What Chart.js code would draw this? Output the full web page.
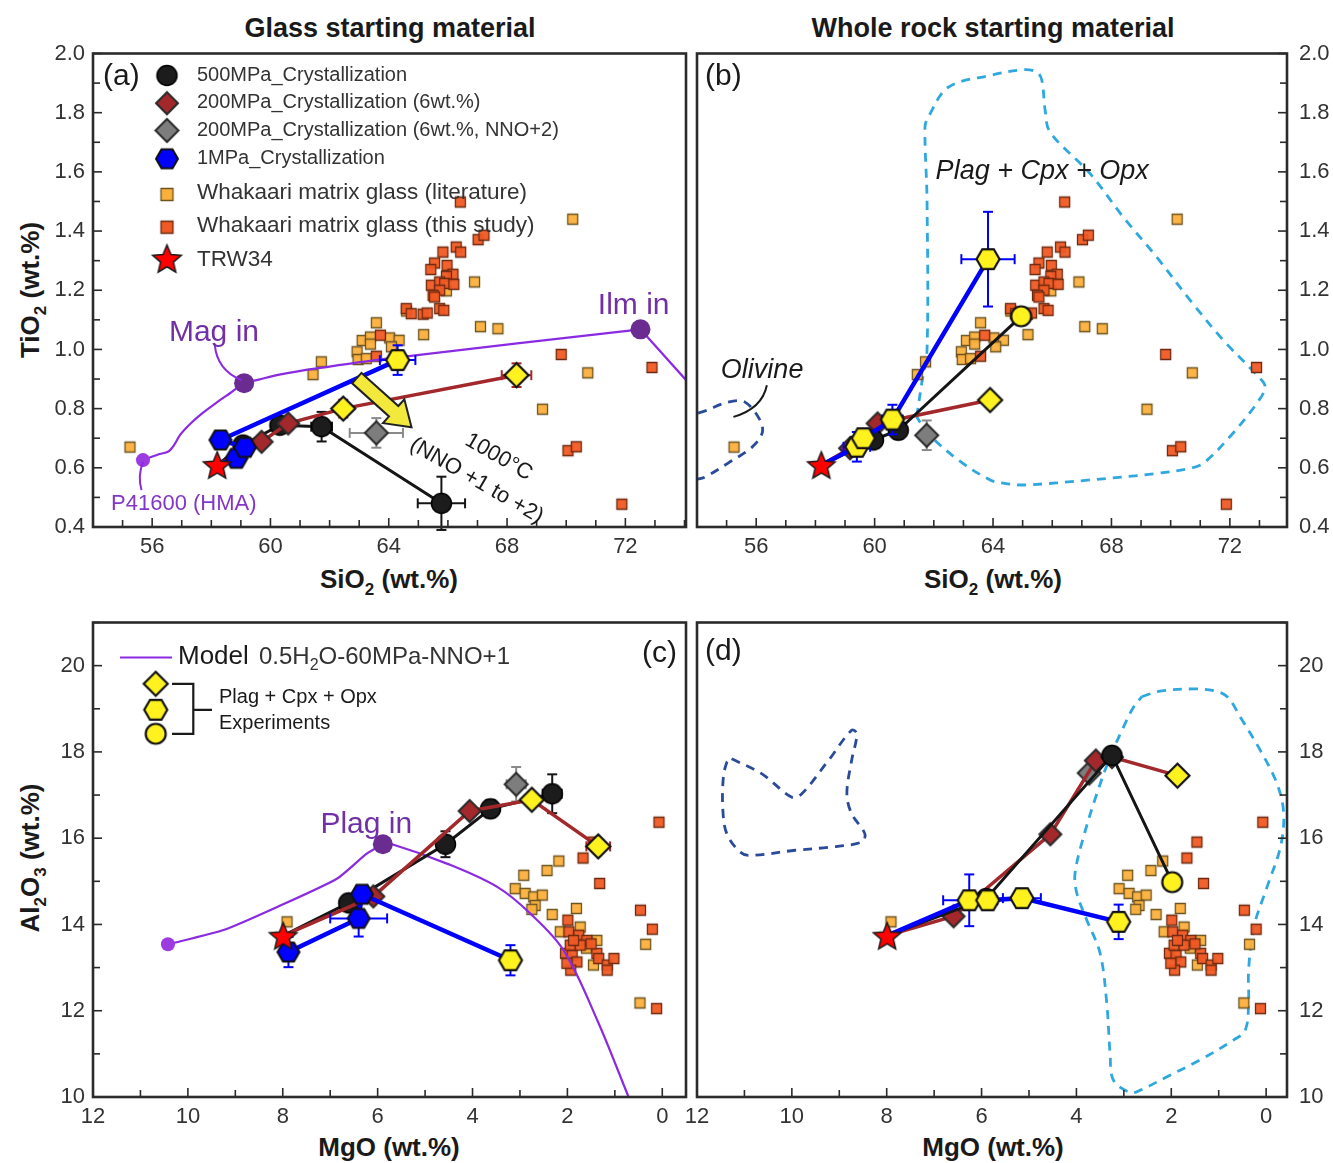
<!DOCTYPE html>
<html>
<head>
<meta charset="utf-8">
<title>Glass vs whole rock starting material</title>
<script src="https://cdn.jsdelivr.net/npm/chart.js@4.4.1/dist/chart.umd.min.js"></script>
<style>
  html, body { margin: 0; padding: 0; background: #fff; }
  body { position: relative; width: 1333px; height: 1163px; overflow: hidden;
         font-family: 'Liberation Sans', Arial, sans-serif; color: #1a1a1a; }
  canvas { position: absolute; }
  .lbl { position: absolute; font-weight: bold; white-space: nowrap; transform: translate(-50%, -50%); }
  .col { font-size: 27px; }
  .ax { font-size: 26px; }
  .ax sub { font-size: 17px; vertical-align: -7px; line-height: 0; }
  .rot { transform: translate(-50%, -50%) rotate(-90deg); }
</style>
</head>
<body>
<div class="lbl col" style="left:390px;top:28px">Glass starting material</div>
<div class="lbl col" style="left:993px;top:28px">Whole rock starting material</div>
<div class="lbl ax rot" style="left:30px;top:290px">TiO<sub>2</sub> (wt.%)</div>
<div class="lbl ax" style="left:389px;top:579px">SiO<sub>2</sub> (wt.%)</div>
<div class="lbl ax" style="left:993px;top:579px">SiO<sub>2</sub> (wt.%)</div>
<div class="lbl ax rot" style="left:30px;top:858px">Al<sub>2</sub>O<sub>3</sub> (wt.%)</div>
<div class="lbl ax" style="left:389px;top:1147px">MgO (wt.%)</div>
<div class="lbl ax" style="left:993px;top:1147px">MgO (wt.%)</div>

<canvas id="chart-a" width="700" height="560" style="left:0;top:40px"></canvas>
<canvas id="chart-b" width="673" height="560" style="left:660px;top:40px"></canvas>
<canvas id="chart-c" width="700" height="554" style="left:0;top:609px"></canvas>
<canvas id="chart-d" width="673" height="554" style="left:660px;top:609px"></canvas>

<script>
// ── EJES ───────────────────────────────────────
const SIO2_TICKS  = [56, 60, 64, 68, 72];
const TIO2_TICKS  = [0.4, 0.6, 0.8, 1.0, 1.2, 1.4, 1.6, 1.8, 2.0];
const MGO_TICKS   = [12, 10, 8, 6, 4, 2, 0];
const AL2O3_TICKS = [10, 12, 14, 16, 18, 20];

// ── NOMBRES DE SERIES ──────────────────────────
const SERIES_NAMES = [
  '500MPa_Crystallization',
  '200MPa_Crystallization (6wt.%)',
  '200MPa_Crystallization (6wt.%, NNO+2)',
  '1MPa_Crystallization',
  'Whakaari matrix glass (literature)',
  'Whakaari matrix glass (this study)',
  'TRW34'
];

// ── VIDRIO DE MATRIZ: SiO2 vs TiO2 ─────────────
const LIT_SIO2 = [55.25, 61.44, 61.72, 63.58, 63.1, 63.38, 63.38, 64.03, 64.35, 64.09, 62.93, 62.96, 63.24, 65.18, 66.9, 67.1, 67.69, 65.95, 64.6, 70.22, 70.73, 69.2];
const LIT_TIO2 = [0.67, 0.915, 0.958, 1.09, 1.03, 1.042, 1.018, 1.039, 1.031, 1.009, 0.992, 0.966, 0.969, 1.05, 1.228, 1.077, 1.07, 1.198, 1.13, 1.44, 0.921, 0.798];
const STUDY_SIO2 = [66.42, 67.02, 67.22, 65.83, 66.28, 66.43, 65.55, 65.42, 65.97, 66.17, 65.95, 65.44, 65.72, 65.89, 66.2, 65.72, 65.5, 65.55, 64.59, 64.76, 65.16, 65.3, 65.72, 65.86, 63.72, 63.58, 69.83, 72.9, 70.06, 70.34, 71.88];
const STUDY_TIO2 = [1.498, 1.371, 1.386, 1.329, 1.346, 1.329, 1.292, 1.27, 1.284, 1.254, 1.247, 1.217, 1.228, 1.223, 1.22, 1.2, 1.183, 1.177, 1.138, 1.121, 1.119, 1.123, 1.138, 1.132, 1.048, 0.977, 0.983, 0.939, 0.658, 0.671, 0.477];

// ── VIDRIO DE MATRIZ: MgO vs Al2O3 ─────────────
const LIT_MGO   = [2.18, 2.43, 2.92, 3.1, 2.89, 2.71, 2.53, 2.68, 2.75, 2.32, 1.81, 2.15, 1.73, 0.35, 0.47, 1.45, 1.38, 7.91, 1.6];
const LIT_AL2O3 = [15.47, 15.25, 15.14, 14.83, 14.72, 14.64, 14.68, 14.44, 14.35, 14.23, 14.37, 13.83, 13.94, 13.54, 12.18, 13.06, 13.63, 14.06, 13.45];
const STUDY_MGO   = [0.07, 1.67, 1.32, 0.46, 0.21, 0.12, 1.99, 1.97, 1.76, 1.59, 1.38, 1.34, 1.16, 1.16, 1.02, 2.04, 1.9, 1.8, 1.93, 1.94, 1.73, 1.87, 2.01, 1.5, 1.46];
const STUDY_AL2O3 = [16.37, 15.54, 14.95, 14.33, 13.89, 12.05, 14.1, 13.83, 13.75, 13.63, 13.33, 13.21, 13.06, 12.94, 13.21, 13.33, 13.29, 13.13, 12.94, 13.52, 13.52, 13.63, 13.1, 13.55, 15.91];

// ── MUESTRA INICIAL TRW34 ──────────────────────
const TRW_SIO2 = [58.2],  TRW_TIO2 = [0.61];
const TRW_MGO  = [7.99],  TRW_AL2O3 = [13.74];

// ── PANEL (a): vidrio, SiO2 vs TiO2 ────────────
const A_500_SI = [58.2, 59.07, 60.32, 61.73, 65.78];
const A_500_TI = [0.61, 0.677, 0.744, 0.739, 0.48];
const A_500_EX = [0, 0.2, 0.25, 0.35, 0.8];
const A_500_EY = [0, 0.02, 0.02, 0.05, 0.09];
const A_200_SI = [58.2, 59.7, 60.6, 62.46, 68.32];
const A_200_TI = [0.61, 0.688, 0.75, 0.80, 0.913];
const A_200_EX = [0, 0.2, 0.15, 0.15, 0.5];
const A_200_EY = [0, 0.02, 0.02, 0.03, 0.04];
const A_NNO_SI = [63.58], A_NNO_TI = [0.718], A_NNO_EX = [0.9], A_NNO_EY = [0.05];
const A_1_SI = [58.2, 58.85, 59.14, 58.31, 64.3];
const A_1_TI = [0.61, 0.632, 0.669, 0.694, 0.964];
const A_1_EX = [0, 0.2, 0.2, 0.15, 0.6];
const A_1_EY = [0, 0.02, 0.02, 0.02, 0.05];
const MODEL_A_SIO2 = [55.69, 56.2, 56.55, 56.75, 56.95, 57.3, 57.7, 58.2, 58.63, 59.11, 59.6, 60.3, 61.56, 64.03, 72.51, 74.2];
const MODEL_A_TIO2 = [0.626, 0.645, 0.655, 0.678, 0.712, 0.75, 0.785, 0.822, 0.852, 0.886, 0.898, 0.915, 0.936, 0.97, 1.068, 0.88];
const PHASE_A_SIO2 = [55.69, 59.11, 72.51];
const PHASE_A_TIO2 = [0.626, 0.886, 1.068];

// ── PANEL (b): roca total, SiO2 vs TiO2 ────────
const B_500_SI = [58.19, 59.96, 60.8, 64.95];
const B_500_TI = [0.609, 0.694, 0.727, 1.112];
const B_500_EX = [0, 0.1, 0.2, 0];
const B_500_EY = [0, 0.02, 0.03, 0];
const B_200_SI = [58.19, 59.17, 60.1, 63.9];
const B_200_TI = [0.609, 0.666, 0.75, 0.829];
const B_200_EX = [0, 0.2, 0.15, 0];
const B_200_EY = [0, 0.02, 0.02, 0];
const B_NNO_SI = [61.76], B_NNO_TI = [0.71], B_NNO_EX = [0], B_NNO_EY = [0.05];
const B_1_SI = [58.19, 59.4, 59.62, 60.6, 63.83];
const B_1_TI = [0.609, 0.671, 0.70, 0.763, 1.305];
const B_1_EX = [0, 0.45, 0.3, 0.35, 0.9];
const B_1_EY = [0, 0.05, 0.03, 0.05, 0.16];
const OL_B_SIO2 = [53.5, 54.03, 55.05, 55.62, 56.13, 56.2, 55.86, 55.05, 54.27, 53.93, 53.5];
const OL_B_TIO2 = [0.79, 0.785, 0.822, 0.822, 0.761, 0.717, 0.67, 0.616, 0.569, 0.559, 0.545];
const PL_B_SIO2 = [61.42, 61.59, 61.77, 61.77, 61.7, 61.81, 62.49, 63.9, 65.02, 65.48, 65.65, 65.76, 65.93, 67.28, 68.4, 69.53, 70.66, 71.78, 72.91, 73.19, 72.91, 72.0, 71.1, 70.66, 69.53, 67.28, 65.02, 64.35, 63.9, 62.83, 61.81, 61.42];
const PL_B_TIO2 = [0.772, 0.885, 0.997, 1.504, 1.751, 1.785, 1.886, 1.926, 1.945, 1.937, 1.909, 1.808, 1.734, 1.594, 1.447, 1.312, 1.166, 1.031, 0.913, 0.874, 0.818, 0.705, 0.615, 0.598, 0.581, 0.559, 0.542, 0.548, 0.559, 0.626, 0.716, 0.772];

// ── PANEL (c): vidrio, MgO vs Al2O3 ────────────
const C_500_MG = [7.99, 6.61, 4.57, 3.62, 2.32];
const C_500_AL = [13.74, 14.5, 15.86, 16.68, 17.03];
const C_500_EX = [0, 0, 0, 0.15, 0.2];
const C_500_EY = [0, 0, 0.3, 0.2, 0.45];
const C_200_MG = [7.99, 6.09, 4.06, 2.75, 1.35];
const C_200_AL = [13.74, 14.65, 16.63, 16.89, 15.81];
const C_200_EX = [0, 0, 0, 0, 0.25];
const C_200_EY = [0, 0, 0, 0, 0.1];
const C_NNO_MG = [3.08], C_NNO_AL = [17.25], C_NNO_EX = [0.2], C_NNO_EY = [0.4];
const C_1_MG = [7.99, 7.88, 6.4, 6.33, 3.2];
const C_1_AL = [13.74, 13.36, 14.14, 14.7, 13.17];
const C_1_EX = [0, 0, 0.6, 0, 0];
const C_1_EY = [0, 0.35, 0.42, 0, 0.35];
const MODEL_C_MGO   = [10.42, 9.25, 8.13, 6.86, 6.23, 5.89, 5.73, 4.54, 3.48, 2.78, 2.08, 1.37, 0.71, 0.45];
const MODEL_C_AL2O3 = [13.54, 13.87, 14.4, 15.06, 15.64, 15.86, 15.87, 15.41, 14.87, 14.25, 13.4, 11.78, 10.0, 9.3];
const PHASE_C_MGO   = [10.42, 5.89];
const PHASE_C_AL2O3 = [13.54, 15.86];

// ── PANEL (d): roca total, MgO vs Al2O3 ────────
const D_500_MG = [7.99, 5.9, 3.25, 1.98];
const D_500_AL = [13.74, 14.6, 17.92, 14.98];
const D_200_MG = [7.99, 6.59, 4.55, 3.59, 3.25, 1.87];
const D_200_AL = [13.74, 14.19, 16.09, 17.8, 17.88, 17.45];
const D_NNO_MG = [3.73], D_NNO_AL = [17.51];
const D_1_MG = [7.99, 6.26, 5.87, 5.15, 3.11];
const D_1_AL = [13.74, 14.56, 14.56, 14.61, 14.06];
const D_1_EX = [0, 0.55, 0.2, 0.4, 0];
const D_1_EY = [0, 0.6, 0.2, 0.15, 0.4];
const OL_D_MGO   = [11.27, 10.63, 10.0, 9.79, 9.23, 8.74, 8.63, 8.74, 8.84, 8.74, 8.46, 8.53, 9.23, 9.93, 10.92, 11.13, 11.37, 11.45, 11.45, 11.37, 11.27];
const OL_D_AL2O3 = [17.84, 17.49, 16.95, 17.03, 17.8, 18.5, 18.42, 17.8, 17.03, 16.57, 16.1, 15.91, 15.79, 15.72, 15.6, 15.72, 16.1, 16.57, 17.34, 17.76, 17.84];
const PL_D_MGO   = [2.62, 2.23, 1.53, 1.11, 0.82, 0.54, 0.12, -0.23, -0.37, -0.3, -0.02, 0.26, 0.37, 0.37, 0.44, 0.69, 1.39, 2.09, 2.65, 2.86, 3.22, 3.29, 3.36, 3.5, 3.78, 3.99, 4.03, 3.85, 3.57, 3.29, 3.01, 2.8, 2.62];
const PL_D_AL2O3 = [19.28, 19.41, 19.46, 19.42, 19.28, 18.8, 18.03, 17.26, 16.57, 15.79, 14.87, 13.94, 12.94, 12.17, 11.55, 11.32, 10.86, 10.47, 10.16, 10.1, 10.39, 11.01, 12.17, 13.33, 14.1, 14.72, 15.18, 16.03, 17.03, 17.88, 18.57, 19.03, 19.28];

// ── ESTILO ─────────────────────────────────────
const FONT = "'Liberation Sans', Arial, sans-serif";
const PURPLE = '#8A2BE2', PURPLE_DK = '#6A2C91', PURPLE_TXT = '#7230A8';
const RED = '#A3282B', BLUE = '#0000FF', BLACK = '#151515', GREY = '#8a8a8a';

// marcadores dibujados en canvas fuera de pantalla (pointStyle)
function marker(shape, size, fill, stroke, lw) {
  const c = document.createElement('canvas');
  const s = Math.ceil(size + lw * 2 + 2);
  c.width = c.height = s;
  const g = c.getContext('2d');
  const m = s / 2, r = size / 2;
  g.beginPath();
  if (shape === 'circle') g.arc(m, m, r, 0, Math.PI * 2);
  else if (shape === 'diamond') { g.moveTo(m, m - r); g.lineTo(m + r, m); g.lineTo(m, m + r); g.lineTo(m - r, m); g.closePath(); }
  else if (shape === 'square') g.rect(m - r, m - r, size, size);
  else if (shape === 'hex') {
    for (let i = 0; i < 6; i++) { const t = i * Math.PI / 3; g.lineTo(m + r * Math.cos(t), m + r * Math.sin(t)); }
    g.closePath();
  } else if (shape === 'star') {
    for (let i = 0; i < 10; i++) {
      const t = -Math.PI / 2 + i * Math.PI / 5, rr = i % 2 ? r * 0.45 : r;
      g.lineTo(m + rr * Math.cos(t), m + 1.5 + rr * Math.sin(t));
    }
    g.closePath();
  }
  g.fillStyle = fill; g.fill();
  g.lineWidth = lw; g.strokeStyle = stroke; g.lineJoin = 'miter'; g.stroke();
  return c;
}

const YEL = '#FFF21F';
const MK = {
  blk:   marker('circle', 20, '#1c1c1c', '#000', 1.5),
  redD:  marker('diamond', 22, RED, '#2a2a2a', 2),
  greyD: marker('diamond', 23, '#7d7d7d', '#2a2a2a', 2),
  blueH: marker('hex', 22, BLUE, '#111', 2),
  yelC:  marker('circle', 20, YEL, '#111', 2.2),
  yelD:  marker('diamond', 24, YEL, '#111', 2.2),
  yelH:  marker('hex', 23, YEL, '#111', 2.2),
  lit:   marker('square', 10, 'rgba(251,176,59,0.95)', '#6b5420', 1.3),
  study: marker('square', 10, 'rgba(241,90,36,0.95)', '#6e2a10', 1.3),
  star:  marker('star', 29, '#FF0000', '#1a1a1a', 1.5),
  litL:  marker('square', 12, '#FBB03B', '#6b5420', 1.3),
  studyL: marker('square', 12, '#F15A24', '#6e2a10', 1.3),
  starL: marker('star', 30, '#FF0000', '#1a1a1a', 1.5)
};

const xy = (xs, ys) => xs.map((x, i) => ({ x, y: ys[i] }));

// ── CONSTRUCTORES DE DATASETS ──────────────────
function series(xs, ys, styles, color, width, errX, errY, order) {
  return {
    data: xy(xs, ys), showLine: true, borderColor: color, borderWidth: width, tension: 0,
    pointStyle: styles.map(s => s ? MK[s] : 'circle'),
    pointRadius: styles.map(s => s ? 9 : 0),
    errX, errY, errColor: color, order
  };
}
function squares(xs, ys, style, order) {
  return { data: xy(xs, ys), showLine: false, pointStyle: MK[style], pointRadius: 5, order };
}
function field(xs, ys, color, order) {
  return { data: xy(xs, ys), showLine: true, borderColor: color, borderWidth: 2.8,
           borderDash: [9, 7], pointRadius: 0, tension: 0.35, order };
}
function curve(xs, ys, from, to, tension, order) {
  return { data: xy(xs, ys).slice(from, to), showLine: true, borderColor: PURPLE,
           borderWidth: 2.2, pointRadius: 0, tension, order };
}
function dots(xs, ys, colors, radii, order) {
  return { data: xy(xs, ys), showLine: false, pointStyle: 'circle', pointRadius: radii,
           pointBackgroundColor: colors, pointBorderWidth: 0, order };
}

// ── PLUGINS COMUNES ────────────────────────────
// Barras de error, dibujadas bajo los marcadores de cada dataset
const errorBars = {
  id: 'errorBars',
  beforeDatasetDraw(chart, args) {
    const ds = chart.data.datasets[args.index];
    if (!ds.errX && !ds.errY) return;
    const { ctx } = chart, sx = chart.scales.x, sy = chart.scales.y;
    ctx.save();
    ctx.strokeStyle = ds.errColor; ctx.lineWidth = 2;
    const seg = (x0, y0, x1, y1) => { ctx.beginPath(); ctx.moveTo(x0, y0); ctx.lineTo(x1, y1); ctx.stroke(); };
    ds.data.forEach((p, i) => {
      const px = sx.getPixelForValue(p.x), py = sy.getPixelForValue(p.y);
      const ex = ds.errX ? ds.errX[i] : 0, ey = ds.errY ? ds.errY[i] : 0;
      if (ex) {
        const l = sx.getPixelForValue(p.x - ex), r = sx.getPixelForValue(p.x + ex);
        seg(l, py, r, py); seg(l, py - 5, l, py + 5); seg(r, py - 5, r, py + 5);
      }
      if (ey) {
        const t = sy.getPixelForValue(p.y + ey), b = sy.getPixelForValue(p.y - ey);
        seg(px, t, px, b); seg(px - 5, t, px + 5, t); seg(px - 5, b, px + 5, b);
      }
    });
    ctx.restore();
  }
};

// Marco del panel con marcas hacia adentro
function frame(spec) {
  return {
    id: 'frame',
    afterDatasetsDraw(chart) {
      const { ctx, chartArea: a } = chart, sx = chart.scales.x, sy = chart.scales.y;
      ctx.save();
      ctx.strokeStyle = '#2a2a2a'; ctx.lineWidth = 1.6;
      const seg = (x0, y0, x1, y1) => { ctx.beginPath(); ctx.moveTo(x0, y0); ctx.lineTo(x1, y1); ctx.stroke(); };
      const isMajor = (v, list) => list.some(t => Math.abs(t - v) < 1e-6);
      for (let v = Math.ceil(sx.min); v <= sx.max; v += 1) {
        const px = sx.getPixelForValue(v);
        seg(px, a.bottom, px, a.bottom - (isMajor(v, spec.xTicks) ? 9 : 7));
      }
      const n = Math.round((sy.max - sy.min) / spec.yStep);
      for (let i = 0; i <= n; i++) {
        const v = sy.min + i * spec.yStep, py = sy.getPixelForValue(v);
        const len = isMajor(v, spec.yTicks) ? 9 : 7;
        if (spec.ySide === 'right') seg(a.right, py, a.right - len, py);
        else seg(a.left, py, a.left + len, py);
      }
      ctx.lineWidth = 2.6; ctx.strokeStyle = '#2b2b2b';
      ctx.strokeRect(a.left, a.top, a.right - a.left, a.bottom - a.top);
      ctx.restore();
    }
  };
}

function label(ctx, s, x, y, font, color, align = 'center', rot = 0) {
  ctx.save();
  ctx.translate(x, y);
  if (rot) ctx.rotate(rot * Math.PI / 180);
  ctx.font = font; ctx.fillStyle = color; ctx.textAlign = align; ctx.textBaseline = 'middle';
  ctx.fillText(s, 0, 0);
  ctx.restore();
}
function stamp(ctx, img, x, y) { ctx.drawImage(img, x - img.width / 2, y - img.height / 2); }
function px(chart, X, Y) { return [chart.scales.x.getPixelForValue(X), chart.scales.y.getPixelForValue(Y)]; }
function leader(ctx, chart, pts, color, width) {
  const p = pts.map(q => px(chart, q[0], q[1]));
  ctx.save(); ctx.strokeStyle = color; ctx.lineWidth = width; ctx.beginPath();
  ctx.moveTo(p[0][0], p[0][1]);
  if (p.length === 3) ctx.quadraticCurveTo(p[1][0], p[1][1], p[2][0], p[2][1]);
  else ctx.bezierCurveTo(p[1][0], p[1][1], p[2][0], p[2][1], p[3][0], p[3][1]);
  ctx.stroke(); ctx.restore();
}

// ── FABRICA DE GRAFICOS ────────────────────────
// Los afterFit fijan el ancho/alto de los ejes y anulan el relleno extra
// que Chart.js reserva para las etiquetas de los extremos.
function makePanel(id, o) {
  return new Chart(document.getElementById(id), {
    type: 'scatter',
    data: { datasets: o.datasets },
    options: {
      responsive: false, animation: false, events: [],
      layout: { padding: o.padding },
      plugins: { legend: { display: false }, tooltip: { enabled: false } },
      elements: { line: { capBezierPoints: false } },
      scales: {
        x: {
          type: 'linear', min: o.xMin, max: o.xMax, reverse: !!o.xRev,
          grid: { display: false, drawTicks: false }, border: { display: false },
          ticks: { font: { family: FONT, size: 22 }, color: '#333', padding: 7, maxRotation: 0, autoSkip: false },
          afterBuildTicks: s => { s.ticks = o.xTicks.map(v => ({ value: v })); },
          afterFit: s => { s.height = o.xH; s.paddingLeft = 0; s.paddingRight = 0; }
        },
        y: {
          type: 'linear', position: o.yPos, min: o.yMin, max: o.yMax,
          grid: { display: false, drawTicks: false }, border: { display: false },
          ticks: { font: { family: FONT, size: 22 }, color: '#333', padding: o.yPad, autoSkip: false,
                   callback: v => o.yFmt(v) },
          afterBuildTicks: s => { s.ticks = o.yTicks.map(v => ({ value: v })); },
          afterFit: s => { s.width = o.yW; s.paddingTop = 0; s.paddingBottom = 0; }
        }
      }
    },
    plugins: [errorBars, frame({ xTicks: o.xTicks, yTicks: o.yTicks, yStep: o.yStep, ySide: o.yPos }), o.notes]
  });
}

// ── PANEL (a) ──────────────────────────────────
const ARROW_FROM = [62.92, 0.903], ARROW_TO = [64.77, 0.737];
function drawArrow(ctx, [x0, y0], [x1, y1]) {
  const ang = Math.atan2(y1 - y0, x1 - x0), L = Math.hypot(x1 - x0, y1 - y0);
  const sw = 7, hw = 16, hl = 24;
  ctx.save(); ctx.translate(x0, y0); ctx.rotate(ang);
  ctx.beginPath();
  ctx.moveTo(0, -sw); ctx.lineTo(L - hl, -sw); ctx.lineTo(L - hl, -hw); ctx.lineTo(L, 0);
  ctx.lineTo(L - hl, hw); ctx.lineTo(L - hl, sw); ctx.lineTo(0, sw); ctx.closePath();
  ctx.fillStyle = '#F3E93C'; ctx.fill();
  ctx.lineWidth = 2; ctx.strokeStyle = '#222'; ctx.lineJoin = 'miter'; ctx.stroke();
  ctx.restore();
}

const notesA = {
  id: 'notesA',
  afterDatasetsDraw(chart) {
    const { ctx, chartArea: a } = chart;
    drawArrow(ctx, px(chart, ...ARROW_FROM), px(chart, ...ARROW_TO));
    leader(ctx, chart, [[58.12, 1.014], [58.2, 0.93], [59.03, 0.896]], PURPLE, 2);
    leader(ctx, chart, [[55.69, 0.62], [55.5, 0.57], [55.64, 0.525]], PURPLE, 2);
    label(ctx, '(a)', a.left + 10, a.top + 23, `30px ${FONT}`, '#1a1a1a', 'left');
    label(ctx, 'Mag in', ...px(chart, 58.09, 1.055), `30px ${FONT}`, PURPLE_TXT);
    label(ctx, 'Ilm in', ...px(chart, 72.28, 1.149), `30px ${FONT}`, PURPLE_TXT);
    label(ctx, 'P41600 (HMA)', ...px(chart, 57.07, 0.478), `22px ${FONT}`, '#8436C8');
    label(ctx, '1000°C', ...px(chart, 67.72, 0.636), `22px ${FONT}`, '#1a1a1a', 'center', 30);
    label(ctx, '(NNO +1 to +2)', ...px(chart, 66.97, 0.556), `22px ${FONT}`, '#1a1a1a', 'center', 30);
    // leyenda
    const mk = [MK.blk, MK.redD, MK.greyD, MK.blueH, MK.litL, MK.studyL, MK.starL];
    const my = [22, 49.7, 77, 105.3, 141, 173.7, 205];
    const ty = [22, 48.5, 77, 105, 139, 172, 206];
    const fs = [20, 20, 20, 20, 22.5, 22.5, 22.5];
    SERIES_NAMES.forEach((s, i) => {
      stamp(ctx, mk[i], a.left + 74, a.top + my[i]);
      label(ctx, s, a.left + 104, a.top + ty[i], `${fs[i]}px ${FONT}`, '#333', 'left');
    });
  }
};

makePanel('chart-a', {
  padding: { top: 13, right: 14, left: 0, bottom: 0 },
  xMin: 54, xMax: 74.05, xTicks: SIO2_TICKS, xH: 73,
  yMin: 0.4, yMax: 2.0, yTicks: TIO2_TICKS, yStep: 0.1, yPos: 'left', yW: 93, yPad: 8,
  yFmt: v => v.toFixed(1),
  notes: notesA,
  datasets: [
    { data: xy(TRW_SIO2, TRW_TIO2), pointStyle: MK.star, pointRadius: 9, order: 0 },
    series(A_1_SI, A_1_TI, [null, 'blueH', 'blueH', 'blueH', 'yelH'], BLUE, 4.5, A_1_EX, A_1_EY, 2),
    series(A_200_SI, A_200_TI, [null, 'redD', 'redD', 'yelD', 'yelD'], RED, 3.5, A_200_EX, A_200_EY, 3),
    series(A_500_SI, A_500_TI, [null, 'blk', 'blk', 'blk', 'blk'], BLACK, 3, A_500_EX, A_500_EY, 4),
    series(A_NNO_SI, A_NNO_TI, ['greyD'], GREY, 0, A_NNO_EX, A_NNO_EY, 5),
    dots(PHASE_A_SIO2, PHASE_A_TIO2, ['#9B3BE0', PURPLE_DK, PURPLE_DK], [7, 10, 10], 8),
    curve(MODEL_A_SIO2, MODEL_A_TIO2, 0, 15, 0.3, 9),
    curve(MODEL_A_SIO2, MODEL_A_TIO2, 14, 16, 0, 9),
    squares(STUDY_SIO2, STUDY_TIO2, 'study', 11),
    squares(LIT_SIO2, LIT_TIO2, 'lit', 12)
  ]
});

// ── PANEL (b) ──────────────────────────────────
const notesB = {
  id: 'notesB',
  afterDatasetsDraw(chart) {
    const { ctx, chartArea: a } = chart;
    label(ctx, '(b)', a.left + 8, a.top + 23, `30px ${FONT}`, '#1a1a1a', 'left');
    label(ctx, 'Plag + Cpx + Opx', ...px(chart, 65.66, 1.602), `italic 27px ${FONT}`, '#1a1a1a');
    label(ctx, 'Olivine', ...px(chart, 56.2, 0.93), `italic 27px ${FONT}`, '#1a1a1a');
    leader(ctx, chart, [[56.36, 0.879], [56.2, 0.80], [55.23, 0.772]], '#1a1a1a', 2);
  }
};

makePanel('chart-b', {
  padding: { top: 13, right: 0, left: 37, bottom: 0 },
  xMin: 54, xMax: 73.93, xTicks: SIO2_TICKS, xH: 73,
  yMin: 0.4, yMax: 2.0, yTicks: TIO2_TICKS, yStep: 0.1, yPos: 'right', yW: 46, yPad: 12,
  yFmt: v => v.toFixed(1),
  notes: notesB,
  datasets: [
    { data: xy(TRW_SIO2, TRW_TIO2), pointStyle: MK.star, pointRadius: 9, order: 0 },
    series(B_1_SI, B_1_TI, [null, 'yelH', 'yelH', 'yelH', 'yelH'], BLUE, 4.5, B_1_EX, B_1_EY, 2),
    series(B_500_SI, B_500_TI, [null, 'blk', 'blk', 'yelC'], BLACK, 3, B_500_EX, B_500_EY, 3),
    series(B_200_SI, B_200_TI, [null, 'redD', 'redD', 'yelD'], RED, 3.5, B_200_EX, B_200_EY, 4),
    series(B_NNO_SI, B_NNO_TI, ['greyD'], GREY, 0, B_NNO_EX, B_NNO_EY, 5),
    squares(STUDY_SIO2, STUDY_TIO2, 'study', 11),
    squares(LIT_SIO2, LIT_TIO2, 'lit', 12),
    field(PL_B_SIO2, PL_B_TIO2, '#2FA8E0', 13),
    field(OL_B_SIO2, OL_B_TIO2, '#2A4A9A', 13)
  ]
});

// ── PANEL (c) ──────────────────────────────────
const notesC = {
  id: 'notesC',
  afterDatasetsDraw(chart) {
    const { ctx, chartArea: a } = chart;
    label(ctx, '(c)', a.right - 9, a.top + 31, `30px ${FONT}`, '#1a1a1a', 'right');
    label(ctx, 'Plag in', ...px(chart, 6.24, 16.32), `30px ${FONT}`, PURPLE_TXT);
    // leyenda del modelo
    ctx.save();
    ctx.strokeStyle = PURPLE; ctx.lineWidth = 2.2;
    ctx.beginPath(); ctx.moveTo(a.left + 27, a.top + 35); ctx.lineTo(a.left + 79, a.top + 35); ctx.stroke();
    ctx.restore();
    label(ctx, 'Model', a.left + 85, a.top + 34, `26px ${FONT}`, '#1a1a1a', 'left');
    ctx.save();
    ctx.font = `24px ${FONT}`; ctx.fillStyle = '#333'; ctx.textBaseline = 'middle'; ctx.textAlign = 'left';
    let x = a.left + 166; const y = a.top + 35;
    ctx.fillText('0.5H', x, y); x += ctx.measureText('0.5H').width;
    ctx.font = `16px ${FONT}`; ctx.fillText('2', x, y + 8); x += ctx.measureText('2').width;
    ctx.font = `24px ${FONT}`; ctx.fillText('O-60MPa-NNO+1', x, y);
    ctx.restore();
    // leyenda de experimentos
    stamp(ctx, MK.yelD, a.left + 62.7, a.top + 61.3);
    stamp(ctx, MK.yelH, a.left + 62.7, a.top + 87.3);
    stamp(ctx, MK.yelC, a.left + 62.7, a.top + 111.3);
    ctx.save();
    ctx.strokeStyle = '#1a1a1a'; ctx.lineWidth = 2.2; ctx.beginPath();
    ctx.moveTo(a.left + 79, a.top + 61.3); ctx.lineTo(a.left + 100.3, a.top + 61.3);
    ctx.lineTo(a.left + 100.3, a.top + 111.3); ctx.lineTo(a.left + 79, a.top + 111.3);
    ctx.moveTo(a.left + 100.3, a.top + 87.3); ctx.lineTo(a.left + 119, a.top + 87.3);
    ctx.stroke(); ctx.restore();
    label(ctx, 'Plag + Cpx + Opx', a.left + 126, a.top + 75.3, `20px ${FONT}`, '#1a1a1a', 'left');
    label(ctx, 'Experiments', a.left + 126, a.top + 101.3, `20px ${FONT}`, '#1a1a1a', 'left');
  }
};

makePanel('chart-c', {
  padding: { top: 13, right: 14, left: 0, bottom: 0 },
  xMin: -0.5, xMax: 12, xRev: true, xTicks: MGO_TICKS, xH: 66,
  yMin: 10, yMax: 21, yTicks: AL2O3_TICKS, yStep: 1, yPos: 'left', yW: 93, yPad: 8,
  yFmt: v => String(v),
  notes: notesC,
  datasets: [
    { data: xy(TRW_MGO, TRW_AL2O3), pointStyle: MK.star, pointRadius: 9, order: 0 },
    series(C_1_MG, C_1_AL, [null, 'blueH', 'blueH', 'blueH', 'yelH'], BLUE, 4.5, C_1_EX, C_1_EY, 2),
    series(C_200_MG, C_200_AL, [null, 'redD', 'redD', 'yelD', 'yelD'], RED, 3.5, C_200_EX, C_200_EY, 3),
    series(C_500_MG, C_500_AL, [null, 'blk', 'blk', 'blk', 'blk'], BLACK, 3, C_500_EX, C_500_EY, 4),
    series(C_NNO_MG, C_NNO_AL, ['greyD'], GREY, 0, C_NNO_EX, C_NNO_EY, 5),
    dots(PHASE_C_MGO, PHASE_C_AL2O3, ['#9B3BE0', PURPLE_DK], [7, 10], 8),
    curve(MODEL_C_MGO, MODEL_C_AL2O3, 0, 6, 0.2, 9),
    curve(MODEL_C_MGO, MODEL_C_AL2O3, 5, 14, 0.35, 9),
    squares(STUDY_MGO, STUDY_AL2O3, 'study', 11),
    squares(LIT_MGO, LIT_AL2O3, 'lit', 12)
  ]
});

// ── PANEL (d) ──────────────────────────────────
const notesD = {
  id: 'notesD',
  afterDatasetsDraw(chart) {
    const { ctx, chartArea: a } = chart;
    label(ctx, '(d)', a.left + 8, a.top + 29, `30px ${FONT}`, '#1a1a1a', 'left');
  }
};

makePanel('chart-d', {
  padding: { top: 13, right: 0, left: 37, bottom: 0 },
  xMin: -0.44, xMax: 12, xRev: true, xTicks: MGO_TICKS, xH: 66,
  yMin: 10, yMax: 21, yTicks: AL2O3_TICKS, yStep: 1, yPos: 'right', yW: 46, yPad: 12,
  yFmt: v => String(v),
  notes: notesD,
  datasets: [
    { data: xy(TRW_MGO, TRW_AL2O3), pointStyle: MK.star, pointRadius: 9, order: 0 },
    series(D_1_MG, D_1_AL, [null, 'yelH', 'yelH', 'yelH', 'yelH'], BLUE, 4.5, D_1_EX, D_1_EY, 2),
    series(D_500_MG, D_500_AL, [null, 'blk', 'blk', 'yelC'], BLACK, 3, null, null, 3),
    series(D_200_MG, D_200_AL, [null, 'redD', 'redD', 'redD', 'redD', 'yelD'], RED, 3.5, null, null, 4),
    series(D_NNO_MG, D_NNO_AL, ['greyD'], GREY, 0, null, null, 5),
    squares(STUDY_MGO, STUDY_AL2O3, 'study', 11),
    squares(LIT_MGO, LIT_AL2O3, 'lit', 12),
    field(PL_D_MGO, PL_D_AL2O3, '#2FA8E0', 13),
    field(OL_D_MGO, OL_D_AL2O3, '#2A4A9A', 13)
  ]
});
</script>
</body>
</html>
